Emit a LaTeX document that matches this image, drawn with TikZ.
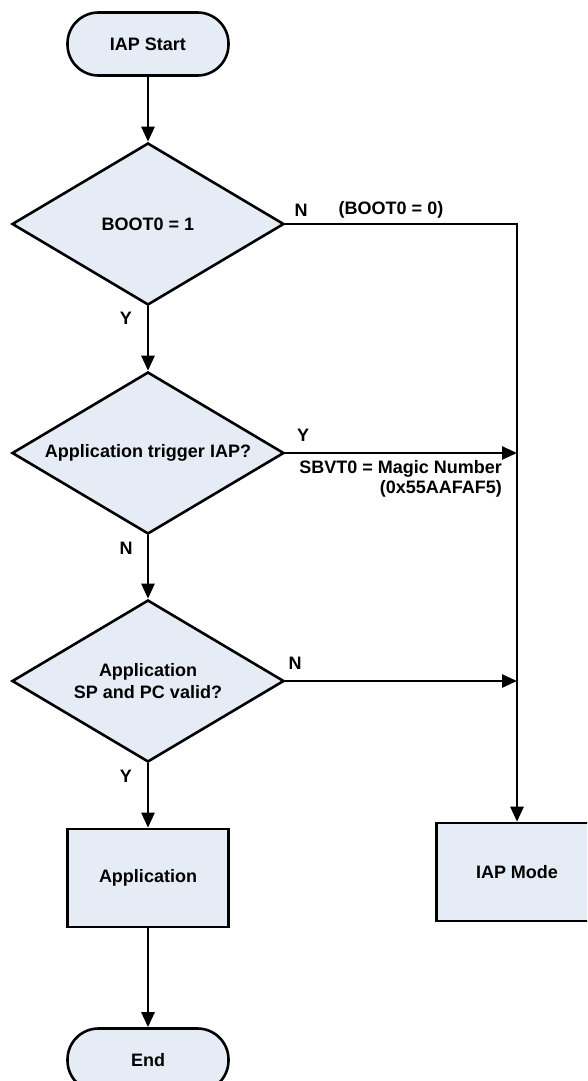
\documentclass[tikz,border=0pt]{standalone}
\usepackage{fontspec}
\setmainfont{Liberation Sans}
\usetikzlibrary{shapes.geometric,arrows.meta}
\definecolor{boxfill}{HTML}{E6ECF6}
\begin{document}
\begin{tikzpicture}[x=1pt,y=-1pt,
  every node/.style={font=\fontsize{18}{22}\selectfont\bfseries},
  shapebase/.style={draw=black, line width=2.6pt, fill=boxfill},
  terminal/.style={shapebase, rectangle, rounded corners=31pt,
    minimum width=161pt, minimum height=63pt, inner sep=0pt},
  decision/.style={shapebase, diamond, aspect=1.7, inner sep=0pt,
    minimum width=272pt, minimum height=162pt, align=center},
  process/.style={shapebase, rectangle, minimum width=161pt,
    minimum height=98pt, inner sep=0pt},
  flow/.style={line width=2.6pt, -{Triangle[length=15pt,width=13pt]}},
  tag/.style={inner sep=0pt},
]
\useasboundingbox (0,0) rectangle (587,1081);
\clip (0,0) rectangle (587,1081);

% main column
\node[terminal] (start) at (148,44)  {IAP Start};
\node[decision] (boot)  at (148,224) {BOOT0 = 1};
\node[decision] (trig)  at (148,453) {Application trigger IAP?};
\node[decision] (valid) at (148,681) {Application\\SP and PC valid?};
\node[process]  (app)   at (148,878) {Application};
\node[terminal] (end)   at (148,1060) {End};

% right column
\node[process] (iap) at (517,872) {IAP Mode};
\coordinate (j1) at (517,224);
\coordinate (j2) at (517,453);
\coordinate (j3) at (517,681);

% connectors
\draw[flow] (start) -- (boot);
\draw[flow] (boot) -- (trig);
\draw[flow] (trig) -- (valid);
\draw[flow] (valid) -- (app);
\draw[flow] (app) -- (end);
\draw[flow] (boot.east) -- (j1) -- (iap.north);
\draw[flow] (trig.east) -- (j2);
\draw[flow] (valid.east) -- (j3);

% branch labels
\node[tag] (n1) at (301,210) {N};
\node[tag] (c1) at (391,210) {(BOOT0 = 0)};
\node[tag] (y1) at (126,318) {Y};
\node[tag] (y2) at (303,435) {Y};
\node[tag, anchor=east] (m1) at (502,469) {SBVT0 = Magic Number};
\node[tag, anchor=east] (m2) at (502,489) {(0x55AAFAF5)};
\node[tag] (n2) at (126,548) {N};
\node[tag] (n3) at (295,663) {N};
\node[tag] (y3) at (126,776) {Y};
\end{tikzpicture}
\end{document}
